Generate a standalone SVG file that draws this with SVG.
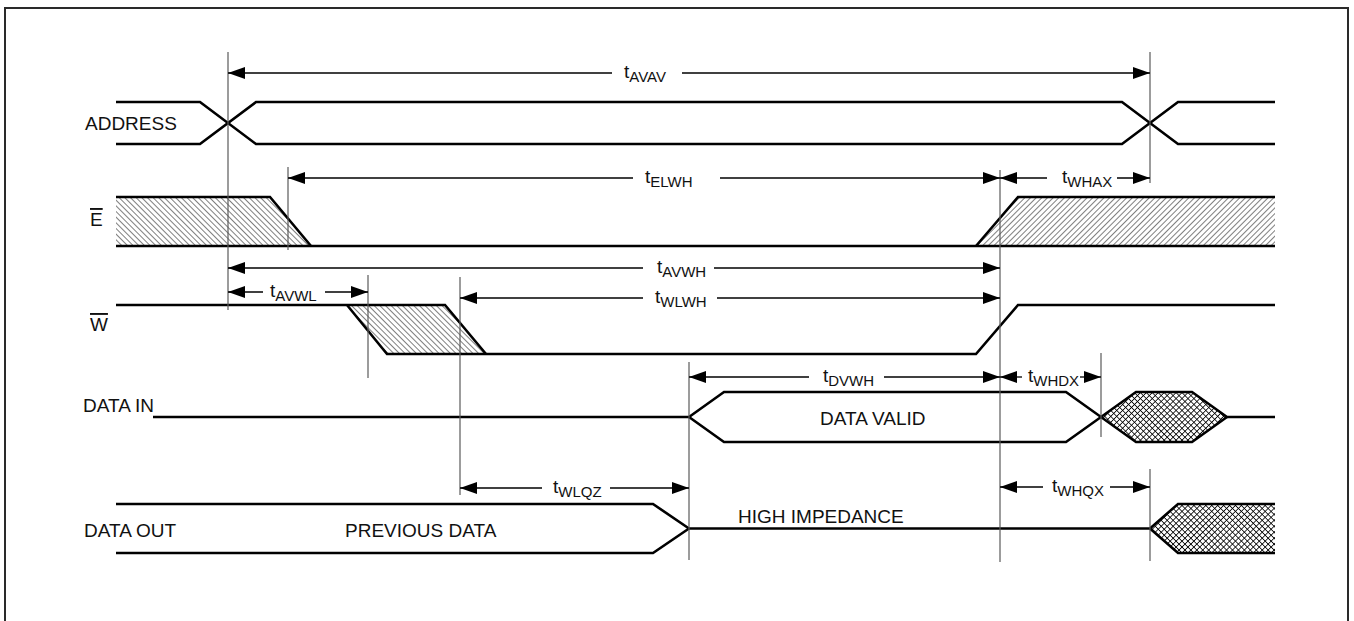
<svg xmlns="http://www.w3.org/2000/svg" width="1354" height="621" viewBox="0 0 1354 621">
<style>
  .sig{fill:none;stroke:#000;stroke-width:2.6;stroke-linejoin:miter}
  .vl{stroke:#5a5a5a;stroke-width:1.2;fill:none}
  .ar{stroke:#000;stroke-width:1.3;fill:none}
  .arl{marker-start:url(#ah)}
  .arr{marker-end:url(#ah)}
  .lbl{font-family:"Liberation Sans",Arial,Helvetica,sans-serif;font-size:19px;fill:#111}
  .t{font-family:"Liberation Sans",Arial,Helvetica,sans-serif;font-size:19px;fill:#111}
  .sub{font-size:15px}
  .ovl{text-decoration:overline}
</style>
<defs>
  <marker id="ah" viewBox="0 0 17 12" refX="17" refY="6" markerWidth="17" markerHeight="12" markerUnits="userSpaceOnUse" orient="auto-start-reverse">
    <path d="M0,0 L17,6 L0,12 Z" fill="#000"/>
  </marker>
  <pattern id="hb" patternUnits="userSpaceOnUse" width="4" height="10" patternTransform="rotate(-45)">
    <line x1="0" y1="0" x2="0" y2="10" stroke="#000" stroke-width="1"/>
  </pattern>
  <pattern id="hf" patternUnits="userSpaceOnUse" width="4" height="10" patternTransform="rotate(45)">
    <line x1="0" y1="0" x2="0" y2="10" stroke="#000" stroke-width="1"/>
  </pattern>
  <pattern id="xh" patternUnits="userSpaceOnUse" width="4.2" height="4.2" patternTransform="rotate(45)">
    <line x1="0" y1="0" x2="0" y2="4.2" stroke="#000" stroke-width="1.6"/>
    <line x1="0" y1="0" x2="4.2" y2="0" stroke="#000" stroke-width="1.6"/>
  </pattern>
</defs>

<rect x="5" y="8" width="1343" height="630" fill="#fff" stroke="#2a2a2a" stroke-width="2"/>

<g id="address">
  <text class="lbl" x="85" y="130">ADDRESS</text>
  <path class="sig" d="M116,102 H200 L256,144 H1122 L1178,102 H1275"/>
  <path class="sig" d="M116,144 H200 L256,102 H1122 L1178,144 H1275"/>
</g>

<g id="e-bar">
  <text class="lbl ovl" x="90" y="226">E</text>
  <polygon points="116,197 270,197 311,246 116,246" fill="url(#hb)"/>
  <polygon points="976,246 1018,197 1275,197 1275,246" fill="url(#hf)"/>
  <path class="sig" d="M116,197 H270 L311,246"/>
  <path class="sig" d="M116,246 H1275"/>
  <path class="sig" d="M976,246 L1018,197 H1275"/>
</g>

<g id="w-bar">
  <text class="lbl ovl" x="90" y="331">W</text>
  <polygon points="347,305 445,305 486,354 387,354" fill="url(#hb)"/>
  <path class="sig" d="M116,305 H445 L486,354"/>
  <path class="sig" d="M347,305 L387,354 H976 L1018,305 H1275"/>
</g>

<g id="data-in">
  <text class="lbl" x="83" y="412">DATA IN</text>
  <polygon points="1101,417 1136,392 1192,392 1227,417 1192,442 1136,442" fill="url(#xh)"/>
  <path class="sig" d="M153,417 H689 L724,392 H1066 L1101,417 L1136,392 H1192 L1227,417 H1275"/>
  <path class="sig" d="M689,417 L724,442 H1066 L1101,417 L1136,442 H1192 L1227,417"/>
  <text class="lbl" x="820" y="425">DATA VALID</text>
</g>

<g id="data-out">
  <text class="lbl" x="84" y="537">DATA OUT</text>
  <text class="lbl" x="345" y="537">PREVIOUS DATA</text>
  <text class="lbl" x="738" y="523">HIGH IMPEDANCE</text>
  <polygon points="1150,528.5 1178,504 1275,504 1275,553 1178,553" fill="url(#xh)"/>
  <path class="sig" d="M116,504 H653 L689,528.5 H1150 L1178,504 H1275"/>
  <path class="sig" d="M116,553 H653 L689,528.5"/>
  <path class="sig" d="M1150,528.5 L1178,553 H1275"/>
</g>

<g id="connectors">
  <line class="vl" x1="228" y1="52" x2="228" y2="310"/>
  <line class="vl" x1="1150" y1="52" x2="1150" y2="183"/>
  <line class="vl" x1="288" y1="167" x2="288" y2="250"/>
  <line class="vl" x1="1000" y1="170" x2="1000" y2="562"/>
  <line class="vl" x1="368" y1="275" x2="368" y2="378"/>
  <line class="vl" x1="460" y1="277" x2="460" y2="495"/>
  <line class="vl" x1="689" y1="362" x2="689" y2="560"/>
  <line class="vl" x1="1101" y1="353" x2="1101" y2="437"/>
  <line class="vl" x1="1150" y1="469" x2="1150" y2="561"/>

  <line class="ar arl" x1="228" y1="73" x2="612" y2="73"/>
  <line class="ar arr" x1="682" y1="73" x2="1150" y2="73"/>
  <text class="t" x="624" y="78">t<tspan class="sub" dy="4">AVAV</tspan></text>

  <line class="ar arl" x1="288" y1="178" x2="633" y2="178"/>
  <line class="ar arr" x1="720" y1="178" x2="1000" y2="178"/>
  <text class="t" x="645" y="183">t<tspan class="sub" dy="4">ELWH</tspan></text>

  <line class="ar arl" x1="1000" y1="178" x2="1047" y2="178"/>
  <line class="ar arr" x1="1117" y1="178" x2="1150" y2="178"/>
  <text class="t" x="1062" y="183">t<tspan class="sub" dy="4">WHAX</tspan></text>

  <line class="ar arl" x1="228" y1="268" x2="643" y2="268"/>
  <line class="ar arr" x1="714" y1="268" x2="1000" y2="268"/>
  <text class="t" x="657" y="273">t<tspan class="sub" dy="4">AVWH</tspan></text>

  <line class="ar arl" x1="228" y1="292" x2="263" y2="292"/>
  <line class="ar arr" x1="325" y1="292" x2="368" y2="292"/>
  <text class="t" x="270" y="297">t<tspan class="sub" dy="4">AVWL</tspan></text>

  <line class="ar arl" x1="460" y1="298" x2="643" y2="298"/>
  <line class="ar arr" x1="717" y1="298" x2="1000" y2="298"/>
  <text class="t" x="655" y="303">t<tspan class="sub" dy="4">WLWH</tspan></text>

  <line class="ar arl" x1="689" y1="377" x2="809" y2="377"/>
  <line class="ar arr" x1="884" y1="377" x2="1000" y2="377"/>
  <text class="t" x="823" y="382">t<tspan class="sub" dy="4">DVWH</tspan></text>

  <line class="ar arl" x1="1000" y1="377" x2="1022" y2="377"/>
  <line class="ar arr" x1="1080" y1="377" x2="1101" y2="377"/>
  <text class="t" x="1028" y="382">t<tspan class="sub" dy="4">WHDX</tspan></text>

  <line class="ar arl" x1="460" y1="488" x2="542" y2="488"/>
  <line class="ar arr" x1="610" y1="488" x2="689" y2="488"/>
  <text class="t" x="553" y="493">t<tspan class="sub" dy="4">WLQZ</tspan></text>

  <line class="ar arl" x1="1000" y1="487" x2="1043" y2="487"/>
  <line class="ar arr" x1="1110" y1="487" x2="1150" y2="487"/>
  <text class="t" x="1052" y="492">t<tspan class="sub" dy="4">WHQX</tspan></text>
</g>
</svg>
